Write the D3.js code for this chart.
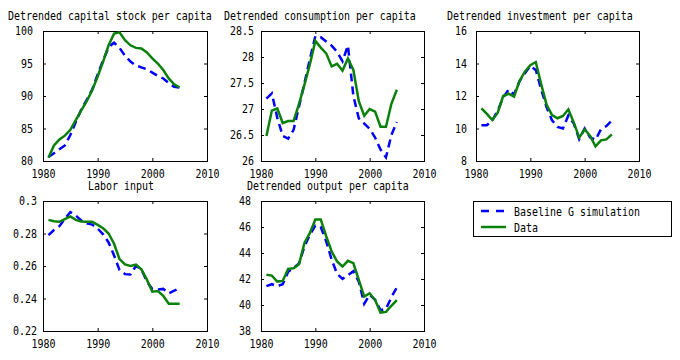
<!DOCTYPE html>
<html>
<head>
<meta charset="utf-8">
<script src="https://cdn.jsdelivr.net/npm/d3@7"></script>
<style>
  body { margin: 0; background: #fff; }
  svg { display: block; }
</style>
</head>
<body>
<div id="graph"></div>
<script>
'use strict';

let W = 680;
let H = 360;
let FONT = "'DejaVu Sans Mono', 'Liberation Mono', monospace";
let CHAR_W = 6;
let X_SQUEEZE = 6 / 7.22;   // DejaVu Sans Mono at 12px is 7.22px per char
let BLUE = '#0000ff';
let GREEN = '#0b800b';

let YEARS = [1981, 1982, 1983, 1984, 1985, 1986, 1987, 1988, 1989, 1990,
    1991, 1992, 1993, 1994, 1995, 1996, 1997, 1998, 1999, 2000,
    2001, 2002, 2003, 2004, 2005];
let X_TICKS = [1980, 1990, 2000, 2010];

let CAP_DATA = [80.5, 82.4, 83.3, 83.9, 84.8, 86.3, 87.8, 89.2, 90.9, 93.0,
    95.3, 97.8, 99.6, 99.8, 98.6, 97.8, 97.4, 97.3, 96.7, 95.8,
    95.0, 94.0, 92.7, 91.8, 91.3];
let CAP_SIM = [80.6, 81.2, 81.8, 82.4, 84.0, 86.0, 87.9, 89.4, 91.0, 93.3,
    95.5, 97.5, 98.2, 97.4, 96.2, 95.3, 94.7, 94.4, 94.1, 93.6,
    93.1, 92.7, 92.0, 91.4, 91.3];

let CONS_DATA = [26.48, 26.97, 27.01, 26.73, 26.77, 26.77, 27.1, 27.47, 27.86, 28.31,
    28.18, 28.07, 27.82, 27.87, 27.74, 27.97, 27.75, 27.15, 26.87, 27.0,
    26.95, 26.66, 26.66, 27.1, 27.37];
let CONS_SIM = [27.2, 27.3, 26.83, 26.48, 26.43, 26.6, 27.05, 27.5, 27.96, 28.4,
    28.38, 28.3, 28.22, 28.1, 27.92, 28.22, 27.25, 26.82, 26.72, 26.62,
    26.45, 26.22, 26.07, 26.5, 26.75];

let INV_DATA = [11.24, 10.9, 10.52, 10.97, 12.0, 12.14, 11.96, 12.92, 13.5, 13.9,
    14.09, 12.72, 11.45, 10.83, 10.63, 10.77, 11.18, 10.36, 9.44, 9.95,
    9.54, 8.9, 9.27, 9.33, 9.64];
let INV_SIM = [10.2, 10.2, 10.5, 11.1, 11.9, 12.4, 12.1, 12.9, 13.4, 13.85,
    13.6, 12.4, 11.3, 10.5, 10.1, 10.0, 10.8, 10.3, 9.35, 10.0,
    9.45, 9.3, 9.95, 10.15, 10.5];

let LAB_DATA = [0.2884, 0.2876, 0.2872, 0.2888, 0.2905, 0.2884, 0.2874, 0.2872, 0.2872, 0.2853,
    0.2832, 0.28, 0.2737, 0.2642, 0.261, 0.26, 0.2608, 0.2579, 0.2516, 0.2442,
    0.2446, 0.2417, 0.2368, 0.2368, 0.2368];
let LAB_SIM = [0.279, 0.2821, 0.2845, 0.289, 0.2932, 0.291, 0.288, 0.2862, 0.2855, 0.283,
    0.2795, 0.2745, 0.2665, 0.2575, 0.255, 0.2548, 0.26, 0.258, 0.2505, 0.2458,
    0.2455, 0.2459, 0.2432, 0.2448, 0.2463];

let OUT_DATA = [42.32, 42.26, 41.8, 41.85, 42.78, 42.83, 43.14, 44.77, 45.55, 46.58,
    46.58, 45.29, 44.12, 43.35, 42.96, 43.4, 43.22, 41.93, 40.64, 40.9,
    40.38, 39.42, 39.47, 39.94, 40.38];
let OUT_SIM = [41.45, 41.6, 41.45, 41.6, 42.55, 42.85, 43.2, 44.5, 45.4, 46.1,
    46.0, 44.9, 43.5, 42.4, 42.0, 42.3, 42.6, 41.8, 40.1, 40.8,
    40.4, 39.6, 39.7, 40.6, 41.35];

let LEGEND = ['Baseline G simulation', 'Data'];

let PANELS = [
    { title: 'Detrended capital stock per capita', titleX: 8, sim: CAP_SIM, data: CAP_DATA,
      yDomain: [80, 100], yTicks: [80, 85, 90, 95, 100], box: [43, 31, 207, 161], gap: 10 },
    { title: 'Detrended consumption per capita', titleX: 224, sim: CONS_SIM, data: CONS_DATA,
      yDomain: [26, 28.5], yTicks: [26, 26.5, 27, 27.5, 28, 28.5], box: [261, 31, 424, 161], gap: 7 },
    { title: 'Detrended investment per capita', titleX: 447, sim: INV_SIM, data: INV_DATA,
      yDomain: [8, 16], yTicks: [8, 10, 12, 14, 16], box: [476, 31, 639, 161], gap: 9 },
    { title: 'Labor input', titleX: 88, sim: LAB_SIM, data: LAB_DATA,
      yDomain: [0.22, 0.3], yTicks: [0.22, 0.24, 0.26, 0.28, 0.3], box: [43, 201, 207, 331], gap: 6 },
    { title: 'Detrended output per capita', titleX: 247, sim: OUT_SIM, data: OUT_DATA,
      yDomain: [38, 48], yTicks: [38, 40, 42, 44, 46, 48], box: [261, 201, 424, 331], gap: 10 },
];

function fmt (v) {
    return String(+v.toFixed(2));
}

function squeeze (sel) {
    sel.attr('font-family', FONT)
        .attr('font-size', 12)
        .attr('fill', '#000')
        .attr('lengthAdjust', 'spacingAndGlyphs')
        .attr('textLength', function () { return this.textContent.length * CHAR_W; });
}

// narrow text placed by transform so its box really is narrow
function label (parent, x, y, txt) {
    return parent.append('text')
        .attr('transform', `translate(${x},${y}) scale(${X_SQUEEZE},1)`)
        .attr('font-family', FONT)
        .attr('font-size', 12)
        .attr('fill', '#000')
        .text(txt);
}

function drawPanel (svg, p) {
    let [x0, y0, x1, y1] = p.box;
    let xScale = d3.scaleLinear().domain([1980, 2010]).range([x0, x1]);
    let yScale = d3.scaleLinear().domain(p.yDomain).range([y1, y0]);

    let g = svg.append('g');

    // inward ticks on all four sides, labels only left and bottom
    let axes = [
        { ax: d3.axisBottom(xScale).tickValues(X_TICKS).tickFormat(d => d), t: [0, y1], pad: 8 },
        { ax: d3.axisTop(xScale).tickValues(X_TICKS).tickFormat(''), t: [0, y0], pad: 0 },
        { ax: d3.axisLeft(yScale).tickValues(p.yTicks).tickFormat(fmt), t: [x0, 0], pad: p.gap },
        { ax: d3.axisRight(yScale).tickValues(p.yTicks).tickFormat(''), t: [x1, 0], pad: 0 },
    ];
    axes.forEach(a => {
        let ag = g.append('g')
            .attr('transform', `translate(${a.t[0]},${a.t[1]})`)
            .call(a.ax.tickSizeInner(-3).tickSizeOuter(0).tickPadding(a.pad));
        ag.select('.domain').remove();
        ag.selectAll('line').attr('stroke', '#000');
        ag.selectAll('text').call(squeeze);
    });

    g.append('rect')
        .attr('x', x0 + 0.5)
        .attr('y', y0 + 0.5)
        .attr('width', x1 - x0)
        .attr('height', y1 - y0)
        .attr('fill', 'none')
        .attr('stroke', '#000');

    let line = d3.line()
        .x((d, i) => xScale(YEARS[i]))
        .y(d => yScale(d));

    g.append('path')
        .attr('d', line(p.sim))
        .attr('fill', 'none')
        .attr('stroke', BLUE)
        .attr('stroke-width', 2.5)
        .attr('stroke-dasharray', '8,5');

    g.append('path')
        .attr('d', line(p.data))
        .attr('fill', 'none')
        .attr('stroke', GREEN)
        .attr('stroke-width', 2.5);

    label(g, p.titleX, y0 - 11, p.title);
}

function drawLegend (svg) {
    let lg = svg.append('g');
    lg.append('rect')
        .attr('x', 473.5)
        .attr('y', 201.5)
        .attr('width', 198)
        .attr('height', 35)
        .attr('fill', '#fff')
        .attr('stroke', '#000');

    let styles = [
        { color: BLUE, dash: '8,7' },
        { color: GREEN, dash: null },
    ];
    LEGEND.forEach((name, i) => {
        let y = 211 + i * 16;
        lg.append('line')
            .attr('x1', 481).attr('x2', 506)
            .attr('y1', y).attr('y2', y)
            .attr('stroke', styles[i].color)
            .attr('stroke-width', 2.5)
            .attr('stroke-dasharray', styles[i].dash);
        label(lg, 514, y + 4.5, name);
    });
}

let svg = d3.select('#graph')
    .append('svg')
    .attr('width', W)
    .attr('height', H);

PANELS.forEach(p => drawPanel(svg, p));
drawLegend(svg);
</script>
</body>
</html>
